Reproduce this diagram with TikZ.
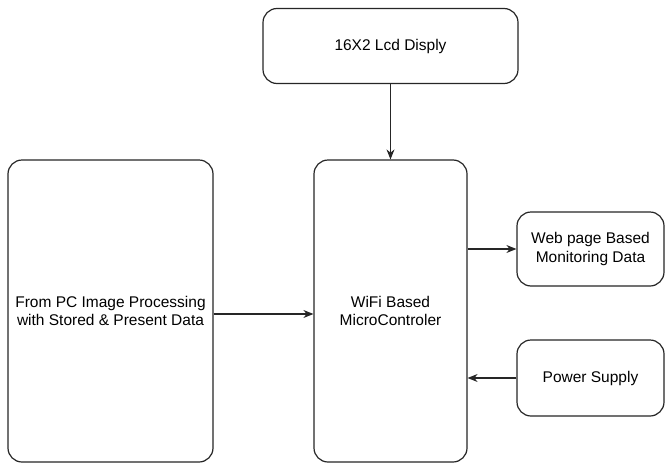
\documentclass[tikz,border=0pt]{standalone}
\usepackage{fontspec}
\setmainfont{Liberation Sans}
\usetikzlibrary{arrows.meta}
\begin{document}
\begin{tikzpicture}[x=1pt,y=-1pt,
  block/.style={draw=black!85, line width=1.2pt, rounded corners=14pt, fill=white,
    align=center, inner sep=0pt, font=\fontsize{15.5}{18.5}\selectfont},
  link/.style={draw=black!85, line width=1.2pt, -{Stealth[length=10pt,width=8pt]}}]
  \useasboundingbox (0,0) rectangle (667,466);
  % blocks, placed by their corners
  \node[block, minimum width=255pt, minimum height=75pt] (lcd) at (390.5,46) {16X2 Lcd Disply};
  \node[block, minimum width=205pt, minimum height=302pt] (pc) at (110.5,311) {From PC Image Processing\\with Stored \& Present Data};
  \node[block, minimum width=153pt, minimum height=302pt] (mcu) at (390.5,311) {WiFi Based\\MicroControler};
  \node[block, minimum width=147pt, minimum height=74pt] (web) at (590.5,249) {Web page Based\\Monitoring Data};
  \node[block, minimum width=147pt, minimum height=76pt] (pwr) at (590.5,378) {Power Supply};
  % connectors
  \draw[link] (lcd.south) -- (mcu.north);
  \draw[link] (pc.east |- 0,314) -- (mcu.west |- 0,314);
  \draw[link] (mcu.east |- web.west) -- (web.west);
  \draw[link] (pwr.west) -- (mcu.east |- pwr.west);
\end{tikzpicture}
\end{document}
